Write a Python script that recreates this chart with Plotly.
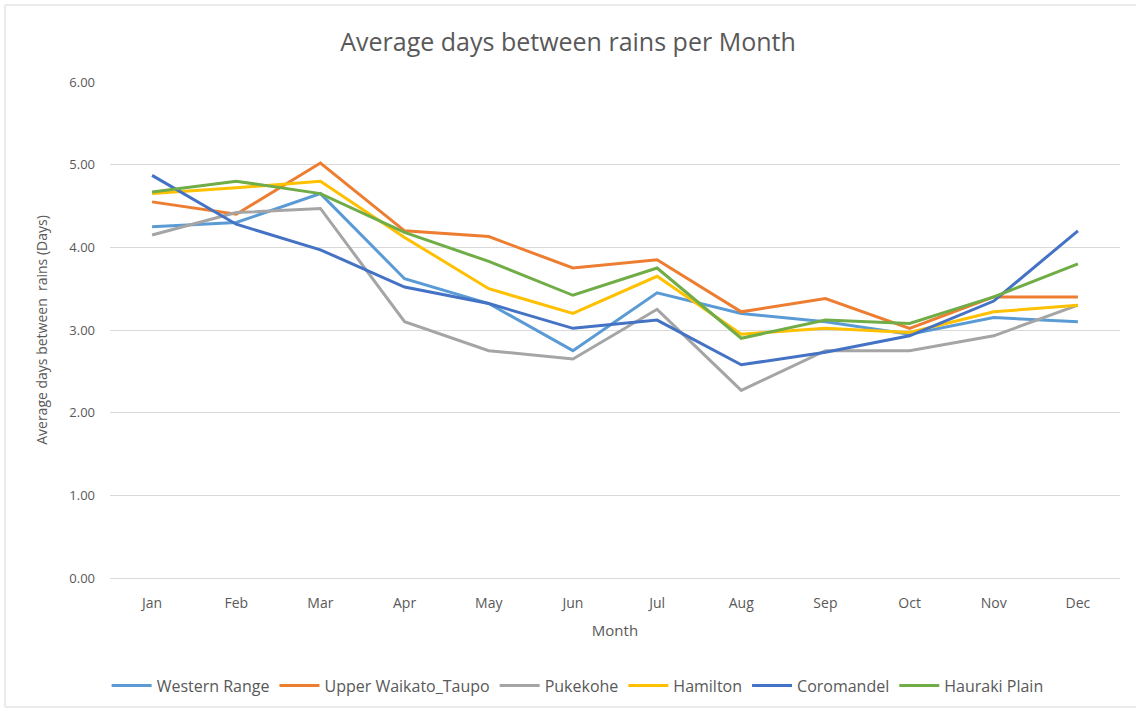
import plotly.graph_objects as go

months = ["Jan", "Feb", "Mar", "Apr", "May", "Jun", "Jul", "Aug", "Sep", "Oct", "Nov", "Dec"]

western_range = [4.25, 4.30, 4.65, 3.62, 3.32, 2.75, 3.45, 3.20, 3.10, 2.95, 3.15, 3.10]
upper_waikato = [4.55, 4.40, 5.02, 4.20, 4.13, 3.75, 3.85, 3.22, 3.38, 3.02, 3.40, 3.40]
pukekohe = [4.15, 4.42, 4.47, 3.10, 2.75, 2.65, 3.25, 2.27, 2.75, 2.75, 2.93, 3.30]
hamilton = [4.65, 4.72, 4.80, 4.12, 3.50, 3.20, 3.65, 2.95, 3.02, 2.97, 3.22, 3.30]
coromandel = [4.87, 4.28, 3.97, 3.52, 3.32, 3.02, 3.12, 2.58, 2.73, 2.93, 3.35, 4.20]
hauraki_plain = [4.67, 4.80, 4.65, 4.18, 3.83, 3.42, 3.75, 2.90, 3.12, 3.08, 3.40, 3.80]

series = [
    ("Western Range", western_range, "#5B9BD5"),
    ("Upper Waikato_Taupo", upper_waikato, "#ED7D31"),
    ("Pukekohe", pukekohe, "#A5A5A5"),
    ("Hamilton", hamilton, "#FFC000"),
    ("Coromandel", coromandel, "#4472C4"),
    ("Hauraki Plain", hauraki_plain, "#70AD47"),
]

fig = go.Figure()
for name, vals, col in series:
    fig.add_trace(go.Scatter(x=months, y=vals, name=name, mode="lines",
                             line=dict(color=col, width=3)))

txt = "#595959"
fig.update_layout(
    width=1136, height=711,
    plot_bgcolor="white", paper_bgcolor="white",
    font=dict(family="Open Sans, sans-serif", color=txt, size=13),
    title=dict(text="Average days between rains per Month", x=0.5, xanchor="center",
               y=1 - 42 / 711, yanchor="middle", font=dict(size=25, color=txt)),
    margin=dict(l=110, r=16, t=82, b=133, autoexpand=False),
    legend=dict(orientation="h", x=0.463, xanchor="center", y=-0.217, yanchor="middle",
                font=dict(size=16, color=txt), itemwidth=40, tracegroupgap=0),
    showlegend=True,
)
fig.update_xaxes(title=dict(text="Month", font=dict(size=15, color=txt), standoff=14),
                 range=[-0.5, 11.5], automargin=False,
                 showgrid=False, showline=True, linecolor="#D9D9D9", linewidth=1,
                 ticks="", ticklabelstandoff=12, tickfont=dict(size=14, color=txt))
fig.update_yaxes(title=dict(text="Average days between  rains (Days)", font=dict(size=14, color=txt),
                            standoff=18),
                 range=[0, 6], dtick=1, tickformat=".2f", showgrid=True, automargin=False,
                 gridcolor="#D9D9D9", gridwidth=1, zeroline=False, showline=False,
                 ticks="", ticklabelstandoff=14, tickfont=dict(size=13, color=txt))
# chart frame
fig.add_shape(type="rect", xref="paper", yref="paper",
              x0=(5 - 110) / 1010, x1=(1140 - 110) / 1010,
              y0=(578 - 707) / 496, y1=(578 - 5) / 496,
              line=dict(color="#D9D9D9", width=1), layer="below")

fig.write_html("out.html", config={"displayModeBar": False},
               post_script="document.body.style.margin='0';document.body.style.overflow='hidden';")
